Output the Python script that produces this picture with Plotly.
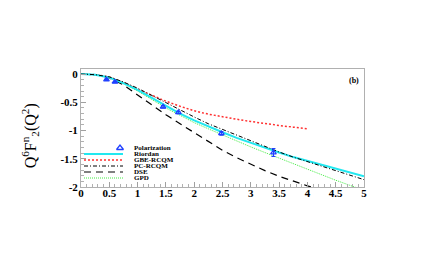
import plotly.graph_objects as go

# ---- data ----
q2_grid = [0, 0.25, 0.5, 0.75, 1.0, 1.25, 1.5, 1.75, 2.0, 2.25, 2.5, 2.75, 3.0,
           3.25, 3.5, 3.75, 4.0, 4.25, 4.5, 4.75, 5.0]
riordan = [0, -0.01, -0.06, -0.16, -0.28, -0.42, -0.57, -0.70, -0.82, -0.93, -1.03,
           -1.13, -1.22, -1.31, -1.39, -1.47, -1.54, -1.61, -1.68, -1.75, -1.81]
pc_rcqm = [0, -0.01, -0.05, -0.14, -0.25, -0.38, -0.50, -0.63, -0.76, -0.88, -0.98,
           -1.09, -1.19, -1.29, -1.38, -1.47, -1.55, -1.63, -1.71, -1.79, -1.87]
gpd = [0, -0.01, -0.06, -0.17, -0.30, -0.45, -0.60, -0.73, -0.86, -0.97, -1.08,
       -1.19, -1.29, -1.39, -1.49, -1.59, -1.68, -1.78, -1.88, -1.97, -2.06]

gbe_x = [0, 0.25, 0.5, 0.75, 1.0, 1.25, 1.5, 1.75, 2.0, 2.25, 2.5, 2.75, 3.0,
         3.25, 3.5, 3.75, 4.0]
gbe_rcqm = [0, -0.01, -0.05, -0.15, -0.27, -0.38, -0.48, -0.57, -0.65, -0.71, -0.76,
            -0.80, -0.84, -0.88, -0.91, -0.94, -0.97]

dse_x = [0, 0.25, 0.5, 0.75, 1.0, 1.25, 1.5, 1.75, 2.0, 2.25, 2.5, 2.75, 3.0,
         3.25, 3.5, 3.75, 4.0, 4.1]
dse = [0, -0.01, -0.07, -0.19, -0.37, -0.55, -0.72, -0.88, -1.04, -1.20, -1.35,
       -1.48, -1.60, -1.71, -1.81, -1.90, -1.98, -2.01]

pol_x = [0.45, 0.6, 1.45, 1.72, 2.48, 3.40]
pol_y = [-0.10, -0.14, -0.58, -0.68, -1.05, -1.39]
pol_err = [0.01, 0.01, 0.02, 0.02, 0.03, 0.07]

x_ticks = [0, 0.5, 1, 1.5, 2, 2.5, 3, 3.5, 4, 4.5, 5]
x_labels = ["0", "0.5", "1", "1.5", "2", "2.5", "3", "3.5", "4", "4.5", "5"]
y_ticks = [0, -0.5, -1, -1.5, -2]
y_labels = ["0", "-0.5", "-1", "-1.5", "-2"]

legend_names = ["Polarization", "Riordan", "GBE-RCQM", "PC-RCQM", "DSE", "GPD"]

# ---- styles ----
C_CYAN = "#22e8f0"
C_RED = "#ff3030"
C_BLACK = "#000000"
C_GREEN = "#44ee44"
C_BLUE = "#2040ff"
styles = {
    "Riordan": dict(color=C_CYAN, width=2, dash="solid"),
    "GBE-RCQM": dict(color=C_RED, width=1.5, dash="2px,2px"),
    "PC-RCQM": dict(color=C_BLACK, width=1, dash="4px,2px,1px,2px"),
    "DSE": dict(color=C_BLACK, width=1.2, dash="7px,5px"),
    "GPD": dict(color=C_GREEN, width=1, dash="1px,1px"),
}

fig = go.Figure()
fig.add_trace(go.Scatter(x=q2_grid, y=gpd, mode="lines", line=styles["GPD"], name="GPD"))
fig.add_trace(go.Scatter(x=dse_x, y=dse, mode="lines", line=styles["DSE"], name="DSE"))
fig.add_trace(go.Scatter(x=gbe_x, y=gbe_rcqm, mode="lines", line=styles["GBE-RCQM"], name="GBE-RCQM"))
fig.add_trace(go.Scatter(x=q2_grid, y=riordan, mode="lines", line=styles["Riordan"], name="Riordan"))
fig.add_trace(go.Scatter(x=q2_grid, y=pc_rcqm, mode="lines", line=styles["PC-RCQM"], name="PC-RCQM"))
fig.add_trace(go.Scatter(x=pol_x, y=pol_y, mode="markers", name="Polarization",
                         marker=dict(symbol="triangle-up-open", size=5, color=C_BLUE,
                                     line=dict(width=1.2, color=C_BLUE)),
                         error_y=dict(type="data", array=pol_err, color=C_BLUE,
                                      thickness=1.2, width=2)))

# ---- compact legend drawn on an overlay axis mapped to window pixels ----
BODY = 8  # page body margin around the plot div
PX_L, PX_R, PX_T, PX_B = 81, 364, 69, 187  # plot area in window pixels
row_y = [148, 154, 160, 166, 172, 178]
for i, name in enumerate(legend_names):
    yy = row_y[i]
    if name == "Polarization":
        fig.add_trace(go.Scatter(x=[120], y=[yy], mode="markers", xaxis="x2", yaxis="y2",
                                 marker=dict(symbol="triangle-up-open", size=6, color=C_BLUE,
                                             line=dict(width=1.3, color=C_BLUE)),
                                 showlegend=False, hoverinfo="skip"))
    else:
        fig.add_trace(go.Scatter(x=[84, 123], y=[yy, yy], mode="lines", xaxis="x2", yaxis="y2",
                                 line=styles[name], showlegend=False, hoverinfo="skip"))
    fig.add_annotation(x=132, y=yy, xref="x2", yref="y2", text="<b>%s</b>" % name,
                       showarrow=False, xanchor="left", yanchor="middle",
                       font=dict(family="Liberation Serif", size=7, color="black"))

fig.add_annotation(x=0.99, y=0.9, xref="paper", yref="paper", text="<b>(b)</b>",
                   showarrow=False, xanchor="right", yanchor="middle",
                   font=dict(family="Liberation Serif", size=8, color="black"))

fig.add_annotation(x=-0.18, y=0.43, xref="paper", yref="paper",
                   text="Q<sup>6</sup>F<sup>n</sup><sub>2</sub>(Q<sup>2</sup>)",
                   textangle=-90, showarrow=False, xanchor="center", yanchor="middle",
                   font=dict(family="Liberation Serif", size=16, color="black"))

axis_common = dict(showgrid=False, zeroline=False, showline=True, linecolor="#b0b0b0",
                   linewidth=1, mirror=True, ticks="inside", ticklen=5, tickcolor="#a0a0a0",
                   tickfont=dict(family="Liberation Serif", size=11, color="black", weight="bold"))

fig.update_layout(
    width=431, height=273,
    margin=dict(l=PX_L - BODY, r=431 - PX_R + BODY, t=PX_T - BODY, b=273 - PX_B + BODY),
    paper_bgcolor="white", plot_bgcolor="white",
    showlegend=False,
    xaxis=dict(range=[0, 5], tickvals=x_ticks, ticktext=x_labels, ticklabelstandoff=-4,
               minor=dict(dtick=0.1, ticklen=3, ticks="inside", tickcolor="#b0b0b0"),
               **axis_common),
    yaxis=dict(range=[-2, 0.09], tickvals=y_ticks, ticktext=y_labels,
               minor=dict(dtick=0.1, ticklen=3, ticks="inside", tickcolor="#b0b0b0"),
               **axis_common),
    xaxis2=dict(range=[PX_L, PX_R], overlaying="x", visible=False, fixedrange=True),
    yaxis2=dict(range=[PX_B, PX_T], overlaying="y", visible=False, fixedrange=True),
)

fig.write_html("out.html")
